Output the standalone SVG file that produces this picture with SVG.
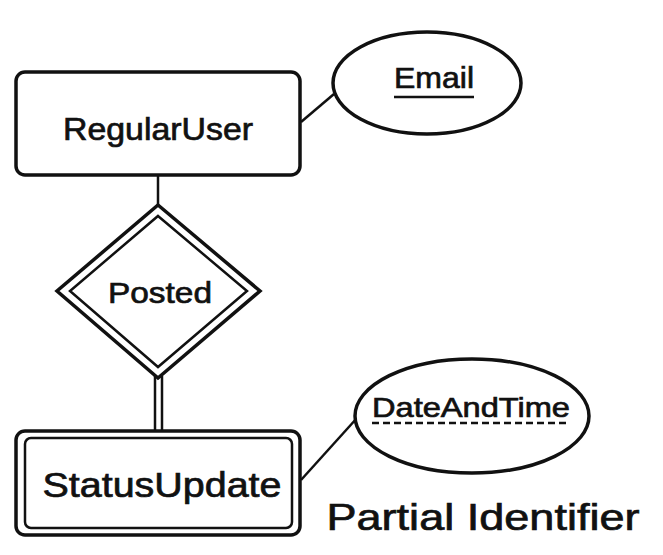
<svg xmlns="http://www.w3.org/2000/svg" width="663" height="555" viewBox="0 0 663 555">
<style>
.s{fill:#fff;stroke:#111;stroke-width:3.5}
.l{fill:none;stroke:#111;stroke-width:2.5}
.t{font-family:"Liberation Sans",Arial,sans-serif;fill:#111;stroke:#111;stroke-width:0.7;text-anchor:middle}
</style>
<rect width="663" height="555" fill="#fff"/>
<g id="connectors">
<line class="l" x1="158" y1="175" x2="158" y2="205"/>
<line class="l" x1="301" y1="122" x2="334" y2="94"/>
<line class="l" x1="155" y1="376" x2="155" y2="431" stroke-width="2.5"/>
<line class="l" x1="162" y1="376" x2="162" y2="431"/>
<line class="l" x1="301" y1="480" x2="357" y2="418"/>
</g>
<g id="RegularUser">
<rect class="s" x="16" y="72" width="284" height="103" rx="9"/>
<text class="t" x="158" y="140" font-size="31" textLength="190" lengthAdjust="spacingAndGlyphs">RegularUser</text>
</g>
<g id="Email">
<ellipse class="s" cx="427" cy="83" rx="94" ry="51"/>
<text class="t" x="434" y="88" font-size="30" textLength="80" lengthAdjust="spacingAndGlyphs">Email</text>
<line class="l" x1="394" y1="97" x2="474" y2="97"/>
</g>
<g id="Posted">
<polygon class="s" points="158,205 260,291 158,378 57,291"/>
<polygon class="l" points="158,216 247,291 158,367 70,291"/>
<text class="t" x="160" y="303" font-size="30" textLength="104" lengthAdjust="spacingAndGlyphs">Posted</text>
</g>
<g id="StatusUpdate">
<rect class="s" x="16" y="431" width="284" height="104" rx="9"/>
<rect class="l" x="25" y="438" width="267" height="90" rx="6"/>
<text class="t" x="162" y="497" font-size="35" textLength="239" lengthAdjust="spacingAndGlyphs">StatusUpdate</text>
</g>
<g id="DateAndTime">
<ellipse class="s" cx="472" cy="416" rx="117" ry="57"/>
<text class="t" x="471" y="417" font-size="28" textLength="198" lengthAdjust="spacingAndGlyphs">DateAndTime</text>
<line class="l" x1="372" y1="423" x2="570" y2="423" stroke-dasharray="7,4"/>
</g>
<text class="t" x="483" y="530" font-size="36" textLength="313" lengthAdjust="spacingAndGlyphs">Partial Identifier</text>
</svg>
